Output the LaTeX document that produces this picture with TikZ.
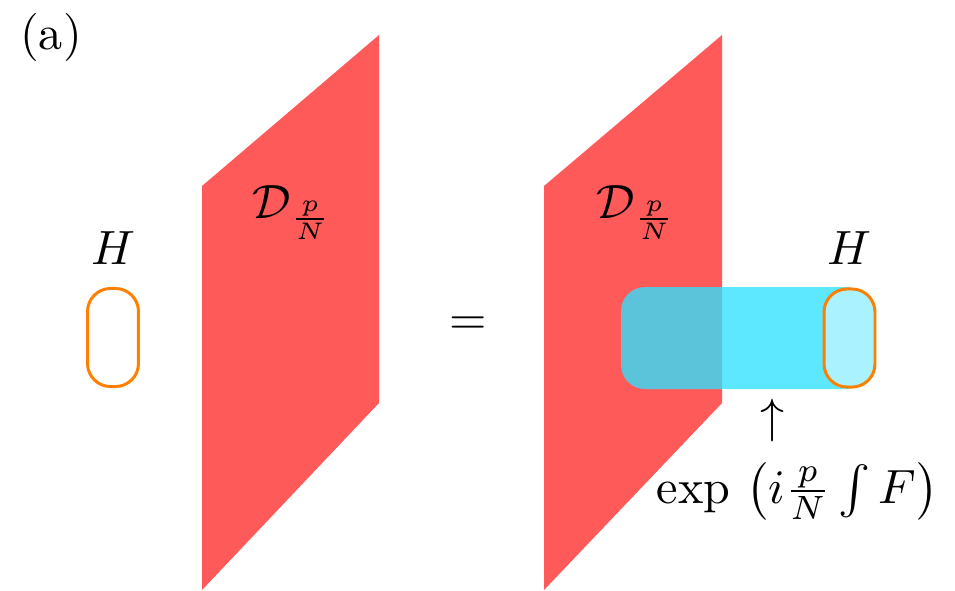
\documentclass[tikz,border=0pt]{standalone}
\usepackage{tikz}
\usetikzlibrary{positioning}
\tikzstyle{plane} = [fill=planered]
\tikzstyle{tube} = [fill=tubecyan, fill opacity=0.78]
\tikzstyle{hloop} = [draw=loopor, line width=0.62pt, rounded corners=4.8pt, minimum width=10.6pt, minimum height=20.4pt, inner sep=0pt]
\tikzstyle{endcap} = [hloop, fill=capcyan]
\tikzstyle{lbl} = [inner sep=0pt]
\definecolor{planered}{RGB}{255,90,90}
\definecolor{tubecyan}{RGB}{47,226,255}
\definecolor{capcyan}{RGB}{170,242,255}
\definecolor{loopor}{RGB}{255,128,0}

\begin{document}
\begin{tikzpicture}[x=0.208pt, y=-0.208pt]
	\useasboundingbox (0,0) rectangle (955,590);
	\node[lbl] (tag) at (51,37.5) {(a)};

	% left side
	\node[hloop] (loopL) at (113,337.5) {};
	\node[lbl, above=4.5pt of loopL] (hL) {$H$};
	\fill[plane] (202,186) -- (379,35) -- (379,403) -- (202,590) -- cycle;
	\node[lbl, anchor=base west] (dL) at (252,218) {$\mathcal{D}_{\frac{p}{N}}$};

	\node[lbl, anchor=base] (eq) at (468,334) {$=$};

	% right side
	\fill[plane] (544,186) -- (722,35) -- (722,403) -- (544,590) -- cycle;
	\node[lbl, anchor=base west] (dR) at (596,218) {$\mathcal{D}_{\frac{p}{N}}$};
	\coordinate (tubeN) at (849.5,287);
	\coordinate (tubeS) at (849.5,389);
	\fill[tube] (tubeN) [rounded corners=5pt] -- (621,287) -- (621,389) [sharp corners] -- (tubeS) -- cycle;
	\node[endcap] (loopR) at (849.5,338) {};
	\node[lbl, above=4.5pt of loopR] (hR) {$H$};

	\node[lbl] (up) at (773,420) {$\uparrow$};
	\node[lbl, anchor=base] (flux) at (797.5,503) {$\exp\,\left(i\frac{p}{N}\int F\right)$};
\end{tikzpicture}
\end{document}
